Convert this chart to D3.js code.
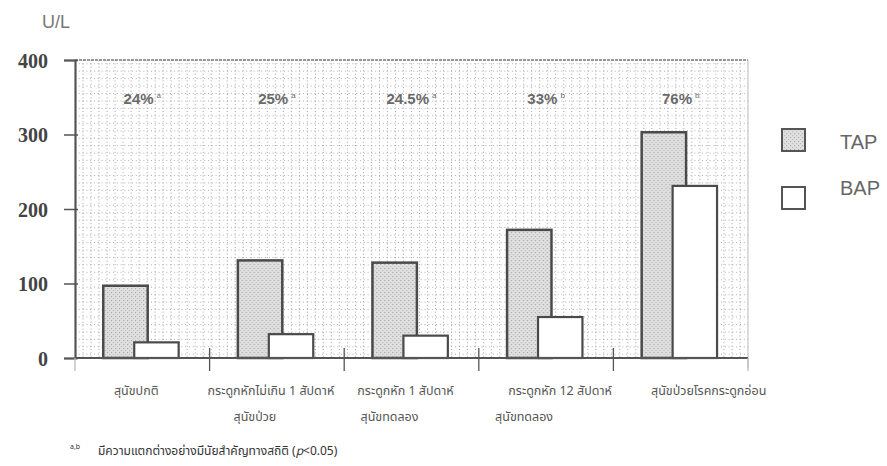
<!DOCTYPE html>
<html>
<head>
<meta charset="utf-8">
<script src="https://cdn.jsdelivr.net/npm/d3@7"></script>
<style>
  html, body { margin: 0; padding: 0; background: #fff; }
  svg { display: block; }
  .thai { font-family: "Noto Sans Thai", "Loma", "Garuda", "Tlwg Typo", "DejaVu Sans", sans-serif; }
</style>
</head>
<body>
<svg id="chart" width="887" height="466"></svg>
<script>
// Enzyme activity (U/L) by dog group
const categories = [
  ["สุนัขปกติ"],
  ["กระดูกหักไม่เกิน 1 สัปดาห์", "สุนัขป่วย"],
  ["กระดูกหัก 1 สัปดาห์", "สุนัขทดลอง"],
  ["กระดูกหัก 12 สัปดาห์", "สุนัขทดลอง"],
  ["สุนัขป่วยโรคกระดูกอ่อน"]
];
const seriesNames = ["TAP", "BAP"];
const tapValues = [97, 131, 128, 172, 303];
const bapValues = [21, 32, 30, 55, 231];
const percentLabels = ["24%", "25%", "24.5%", "33%", "76%"];
const percentMarks = ["a", "a", "a", "b", "b"];
const yTicks = [0, 100, 200, 300, 400];
const unitLabel = "U/L";
const footnoteMarks = "a,b";
const footnoteText = "มีความแตกต่างอย่างมีนัยสำคัญทางสถิติ (";
const footnoteTail = "<0.05)";

const svg = d3.select("#chart");
const plotLeft = 75, plotRight = 748, plotTop = 60, plotBottom = 358;
const keys = categories.map((c, i) => "c" + i);

const x = d3.scaleBand().domain(keys).range([plotLeft, plotRight]).padding(0);
const y = d3.scaleLinear().domain([0, 400]).range([plotBottom, plotTop]);
const bw = x.bandwidth();
// series offset inside each group (bars overlap slightly)
const xs = d3.scalePoint().domain(seriesNames).range([0.21 * bw, 0.44 * bw]);
const barW = 0.33 * bw;

const defs = svg.append("defs");
const pat = defs.append("pattern").attr("id", "stipple")
  .attr("width", 4).attr("height", 4).attr("patternUnits", "userSpaceOnUse");
pat.append("rect").attr("width", 4).attr("height", 4).attr("fill", "#e0e0e0");
pat.append("rect").attr("x", 0).attr("y", 0).attr("width", 1.2).attr("height", 1.2).attr("fill", "#aaa");
pat.append("rect").attr("x", 2).attr("y", 2).attr("width", 1.2).attr("height", 1.2).attr("fill", "#bdbdbd");

// dotted background grid
const gx = d3.scaleLinear().domain([0, 84]).range([plotLeft, plotRight]);
svg.append("g").selectAll("line").data(d3.range(1, 84)).join("line")
  .attr("x1", d => gx(d)).attr("x2", d => gx(d))
  .attr("y1", plotTop).attr("y2", plotBottom)
  .attr("stroke", "#9a9a9a").attr("stroke-width", 0.9)
  .attr("stroke-dasharray", "1,2.4");
svg.append("g").selectAll("line").data(d3.range(5, 400, 10)).join("line")
  .attr("x1", plotLeft).attr("x2", plotRight)
  .attr("y1", d => y(d)).attr("y2", d => y(d))
  .attr("stroke", "#a8a8a8").attr("stroke-width", 0.9)
  .attr("stroke-dasharray", "1,2.8");

// frame: top and right
svg.append("line").attr("x1", plotLeft).attr("x2", plotRight).attr("y1", plotTop).attr("y2", plotTop)
  .attr("stroke", "#777").attr("stroke-width", 1.6).attr("stroke-dasharray", "3,1");
svg.append("line").attr("x1", plotRight).attr("x2", plotRight).attr("y1", plotTop).attr("y2", plotBottom + 10)
  .attr("stroke", "#bbb").attr("stroke-width", 1);

// bars
const groups = svg.append("g").selectAll("g").data(keys).join("g")
  .attr("transform", d => `translate(${x(d)},0)`);
groups.append("rect")
  .attr("x", xs("TAP")).attr("width", barW)
  .attr("y", (d, i) => y(tapValues[i]))
  .attr("height", (d, i) => y(0) - y(tapValues[i]))
  .attr("fill", "url(#stipple)").attr("stroke", "#4a4a4a").attr("stroke-width", 2.5);
groups.append("rect")
  .attr("x", xs("BAP")).attr("width", barW)
  .attr("y", (d, i) => y(bapValues[i]))
  .attr("height", (d, i) => y(0) - y(bapValues[i]))
  .attr("fill", "#fff").attr("stroke", "#4a4a4a").attr("stroke-width", 2.2);

// percentage labels
const pl = groups.append("text")
  .attr("x", bw / 2).attr("y", 104)
  .attr("text-anchor", "middle")
  .attr("font-family", "Liberation Sans, Arial, sans-serif")
  .attr("font-weight", "bold").attr("font-size", 15).attr("fill", "#6a6a6a");
pl.append("tspan").text((d, i) => percentLabels[i]);
pl.append("tspan").attr("dx", 3).attr("dy", -6).attr("font-size", 8).attr("font-weight", "normal")
  .text((d, i) => percentMarks[i]);

// y axis
const yAxis = d3.axisLeft(y).tickValues(yTicks).tickSize(11).tickFormat(d3.format("d"));
const ya = svg.append("g").attr("transform", `translate(${plotLeft},0)`).call(yAxis);
ya.select(".domain").attr("stroke", "#555").attr("stroke-width", 2.2);
ya.selectAll(".tick line").attr("stroke", "#555").attr("stroke-width", 1.5).attr("x2", -11).attr("x1", 3);
ya.selectAll(".tick text")
  .attr("x", -27).attr("dy", "0.35em")
  .attr("font-family", "Liberation Serif, Times New Roman, serif")
  .attr("font-weight", "bold").attr("font-size", 20).attr("fill", "#444");

// x axis: baseline with group dividers
const xa = svg.append("g").attr("transform", `translate(0,${plotBottom})`);
xa.append("line").attr("x1", plotLeft).attr("x2", plotRight).attr("y1", 0).attr("y2", 0)
  .attr("stroke", "#555").attr("stroke-width", 1.8);
const dividers = keys.slice(1).map(k => x(k)).concat([plotLeft, plotRight]);
xa.selectAll("line.div").data(dividers).join("line").attr("class", "div")
  .attr("x1", d => d).attr("x2", d => d)
  .attr("y1", (d) => (d === plotLeft || d === plotRight) ? 0 : -10)
  .attr("y2", 13)
  .attr("stroke", (d) => (d === plotLeft || d === plotRight) ? "#bbb" : "#555")
  .attr("stroke-width", 1.3);

// category labels
const cl = svg.append("g").attr("class", "thai").selectAll("text").data(keys).join("text")
  .attr("font-size", 12.5).attr("fill", "#555").attr("text-anchor", "middle");
cl.each(function (d, i) {
  const t = d3.select(this);
  categories[i].forEach((line, j) => {
    t.append("tspan")
      .attr("x", x(d) + bw / 2 + (j === 0 ? (i === 3 ? 14 : i === 4 ? 28 : -6) : -22))
      .attr("y", 395 + j * 26)
      .text(line);
  });
});

// unit label
svg.append("text").attr("x", 42).attr("y", 28)
  .attr("font-family", "Liberation Sans, Arial, sans-serif")
  .attr("font-size", 18).attr("fill", "#777").text(unitLabel);

// legend
const legend = svg.append("g").selectAll("g").data(seriesNames).join("g")
  .attr("transform", (d, i) => `translate(782,${129 + i * 58})`);
legend.append("rect").attr("width", 23).attr("height", 22)
  .attr("fill", d => d === "TAP" ? "url(#stipple)" : "#fff")
  .attr("stroke", "#555").attr("stroke-width", 2);
legend.append("text").attr("x", 58).attr("y", (d, i) => i === 0 ? 20 : 8)
  .attr("font-family", "Liberation Sans, Arial, sans-serif")
  .attr("font-size", 20).attr("fill", "#666").text(d => d);

// footnote
const fn = svg.append("text").attr("class", "thai").attr("x", 70).attr("y", 455)
  .attr("font-size", 12).attr("fill", "#333");
fn.append("tspan").attr("font-size", 7).attr("dy", -6).text(footnoteMarks);
fn.append("tspan").attr("x", 98).attr("dy", 6).text(footnoteText);
fn.append("tspan").attr("font-style", "italic").text("p");
fn.append("tspan").text(footnoteTail);
</script>
</body>
</html>
